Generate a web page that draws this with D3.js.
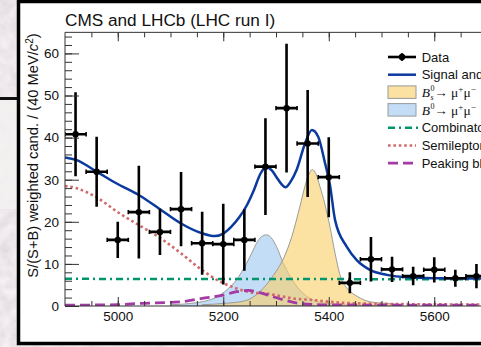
<!DOCTYPE html>
<html>
<head>
<meta charset="utf-8">
<script src="https://cdnjs.cloudflare.com/ajax/libs/d3/7.8.5/d3.min.js"></script>
<style>
  body { margin: 0; background: #d8cdd1; overflow: hidden; }
  svg { display: block; }
  text { font-family: "Liberation Sans", Arial, Helvetica, sans-serif; fill: #111; }
  .math { font-family: "Liberation Serif", "DejaVu Serif", serif; }
</style>
</head>
<body>
<script>
const W = 481, H = 347;

// weighted data, 40 MeV bins (centres)
const binMass = [4920, 4960, 5000, 5040, 5080, 5120, 5160, 5200, 5240, 5280,
  5320, 5360, 5400, 5440, 5480, 5520, 5560, 5600, 5640, 5680];
const binValue = [40.8, 31.9, 15.7, 22.3, 17.6, 23.0, 14.9, 14.7, 15.7, 33.1,
  47.0, 38.6, 30.6, 5.5, 11.1, 8.7, 7.1, 8.6, 6.6, 7.1];
const binError = [10, 8.3, 4.3, 11, 5.5, 8.8, 7.5, 9.6, 7.3, 11.5,
  15.3, 12.7, 9.5, 2.5, 5.3, 3, 2.2, 3, 2, 2.9];

// fit components as [mass, value]
const totalFit = [[4900, 35.3], [4921, 34.7], [4960, 31.9], [4998, 29.1], [5042, 26.2],
  [5080, 23.0], [5120, 19.6], [5159, 17.3], [5184, 16.6], [5200, 17.2], [5215, 18.8],
  [5230, 21.0], [5245, 24.0], [5258, 27.5], [5270, 31.3], [5281, 33.0], [5292, 32.2],
  [5301, 30.6], [5310, 29.0], [5318, 28.2], [5328, 29.6], [5339, 32.3], [5355, 38.6],
  [5368, 41.8], [5380, 40.2], [5393, 33.9], [5402, 29.0], [5412, 20.4], [5434, 14.1],
  [5453, 10.9], [5478, 8.6], [5510, 7.4], [5548, 6.8], [5605, 6.6], [5700, 6.5]];

const bsSignal = [[5160, 0.3], [5200, 0.6], [5240, 1.2], [5260, 2.4], [5280, 4.8],
  [5300, 8.2], [5315, 11.5], [5330, 16.5], [5345, 23.5], [5355, 28.5], [5362, 31.2],
  [5369, 32.4], [5376, 31.3], [5383, 28.5], [5393, 24.0], [5402, 19.0], [5412, 12.5],
  [5421, 7.5], [5434, 4.3], [5445, 3.0], [5455, 2.2], [5478, 1.0], [5510, 0.6], [5540, 0.3]];

const bdSignal = [[5100, 0.3], [5150, 0.8], [5194, 2.6], [5210, 4.2], [5225, 6.2],
  [5244, 10.1], [5255, 12.8], [5263, 14.9], [5272, 16.4], [5282, 16.9], [5291, 16.2],
  [5301, 14.1], [5314, 10.1], [5327, 7.0], [5345, 3.8], [5371, 1.4], [5400, 0.6],
  [5450, 0.2], [5500, 0.05]];

const combBkg = [[4900, 6.45], [5700, 6.35]];

const semilepBkg = [[4900, 28.5], [4921, 28.0], [4960, 25.8], [5001, 22.2], [5040, 19.2],
  [5080, 16.2], [5120, 12.5], [5159, 8.6], [5199, 5.5], [5216, 4.6], [5237, 3.7],
  [5260, 3.1], [5279, 3.0], [5302, 2.5], [5332, 1.8], [5370, 1.4], [5402, 1.0],
  [5435, 0.7], [5510, 0.5], [5592, 0.4], [5700, 0.35]];

const peakingBkg = [[4900, 0.2], [5000, 0.3], [5040, 0.6], [5120, 1.0], [5160, 1.8],
  [5200, 2.6], [5225, 3.4], [5248, 3.7], [5262, 3.4], [5285, 2.6], [5310, 1.6],
  [5340, 0.7], [5370, 0.35], [5400, 0.25], [5700, 0.2]];

const xMajor = [5000, 5200, 5400, 5600];
const xMinor = d3.range(4950, 5900, 50);
const yMajor = [0, 10, 20, 30, 40, 50, 60];
const yMinor = d3.range(2, 65, 2);

const svg = d3.select("body").append("svg").attr("width", W).attr("height", H);
const defs = svg.append("defs");

// marble-ish backdrop
const f = defs.append("filter").attr("id", "marble").attr("x", 0).attr("y", 0)
  .attr("width", 1).attr("height", 1);
f.append("feTurbulence").attr("type", "fractalNoise").attr("baseFrequency", 0.09)
  .attr("numOctaves", 3).attr("seed", 4);
f.append("feColorMatrix").attr("type", "matrix")
  .attr("values", "0 0 0 0.25 0.72  0 0 0 0.25 0.67  0 0 0 0.25 0.70  0 0 0 0 1");
svg.append("rect").attr("width", W).attr("height", H).attr("filter", "url(#marble)");

// paper behind on the left
svg.append("rect").attr("x", 0).attr("y", 99).attr("width", 17).attr("height", 110)
  .attr("fill", "#f3f1f1").attr("opacity", 0.85);
svg.append("line").attr("x1", 0).attr("x2", 17).attr("y1", 98.5).attr("y2", 98.5)
  .attr("stroke", "#111").attr("stroke-width", 3);

// the framed panel
svg.append("rect").attr("x", 18.5).attr("y", 1.5).attr("width", 600).attr("height", 342)
  .attr("fill", "#fff").attr("stroke", "#000").attr("stroke-width", 3.5);

const x = d3.scaleLinear().domain([4900, 5900]).range([65, 592.5]);
const y = d3.scaleLinear().domain([0, 65]).range([306, 32.35]);

defs.append("clipPath").attr("id", "plot").append("rect")
  .attr("x", 65).attr("y", 32.35).attr("width", 527.5).attr("height", 306 - 32.35);

const plot = svg.append("g").attr("clip-path", "url(#plot)");

const line = d3.line().x((d) => x(d[0])).y((d) => y(d[1])).curve(d3.curveMonotoneX);
const area = d3.area().x((d) => x(d[0])).y0(y(0)).y1((d) => y(d[1])).curve(d3.curveMonotoneX);

plot.append("path").datum(bdSignal).attr("d", area)
  .attr("fill", "#a9cff3").attr("fill-opacity", 0.7)
  .attr("stroke", "#9a9a9a").attr("stroke-width", 1);
plot.append("path").datum(bsSignal).attr("d", area)
  .attr("fill", "#f9cf66").attr("fill-opacity", 0.6)
  .attr("stroke", "#9a9a9a").attr("stroke-width", 1);

plot.append("path").datum(combBkg).attr("d", line).attr("fill", "none")
  .attr("stroke", "#00966b").attr("stroke-width", 2.5).attr("stroke-dasharray", "7,4,2,4");
plot.append("path").datum(semilepBkg).attr("d", line).attr("fill", "none")
  .attr("stroke", "#d16a6a").attr("stroke-width", 2.6).attr("stroke-dasharray", "2.6,2.8");
plot.append("path").datum(peakingBkg).attr("d", line).attr("fill", "none")
  .attr("stroke", "#a43aa4").attr("stroke-width", 2.8).attr("stroke-dasharray", "10,5");
plot.append("path").datum(totalFit).attr("d", line).attr("fill", "none")
  .attr("stroke", "#0b3a9e").attr("stroke-width", 2.5);

// data with errors
const bins = binMass.map((m, i) => ({ m, v: binValue[i], e: binError[i] }));
const pts = plot.selectAll(".pt").data(bins).join("g").attr("class", "pt");
pts.append("line")
  .attr("x1", (d) => x(d.m)).attr("x2", (d) => x(d.m))
  .attr("y1", (d) => y(d.v - d.e)).attr("y2", (d) => y(d.v + d.e))
  .attr("stroke", "#000").attr("stroke-width", 2.6);
pts.append("line")
  .attr("x1", (d) => x(d.m - 20)).attr("x2", (d) => x(d.m + 20))
  .attr("y1", (d) => y(d.v)).attr("y2", (d) => y(d.v))
  .attr("stroke", "#000").attr("stroke-width", 2.6);
[-20, 20].forEach((dm) => {
  pts.append("line")
    .attr("x1", (d) => x(d.m + dm)).attr("x2", (d) => x(d.m + dm))
    .attr("y1", (d) => y(d.v) - 2.2).attr("y2", (d) => y(d.v) + 2.2)
    .attr("stroke", "#000").attr("stroke-width", 1.6);
});
pts.append("circle").attr("cx", (d) => x(d.m)).attr("cy", (d) => y(d.v))
  .attr("r", 3.2).attr("fill", "#000");

// axes, ticks pointing inwards
const tickStyle = (g) => {
  g.select(".domain").remove();
  g.selectAll(".tick line").attr("stroke", "#333");
  g.selectAll(".tick text").style("font-size", "13.5px").attr("fill", "#111");
};
svg.append("g").attr("transform", "translate(0,306)")
  .call(d3.axisBottom(x).tickValues(xMinor).tickSize(-5).tickFormat("")).call(tickStyle);
svg.append("g").attr("transform", "translate(0,306)")
  .call(d3.axisBottom(x).tickValues(xMajor).tickSize(-9).tickPadding(5).tickFormat(d3.format("d")))
  .call(tickStyle);
svg.append("g").attr("transform", "translate(0,32.35)")
  .call(d3.axisTop(x).tickValues(xMinor).tickSize(-5).tickFormat("")).call(tickStyle);
svg.append("g").attr("transform", "translate(0,32.35)")
  .call(d3.axisTop(x).tickValues(xMajor).tickSize(-9).tickFormat("")).call(tickStyle);
svg.append("g").attr("transform", "translate(65,0)")
  .call(d3.axisLeft(y).tickValues(yMinor).tickSize(-7).tickFormat("")).call(tickStyle);
svg.append("g").attr("transform", "translate(65,0)")
  .call(d3.axisLeft(y).tickValues(yMajor).tickSize(-14).tickPadding(6)).call(tickStyle);

// frame
svg.append("path")
  .attr("d", `M600,32.35H65V306H600`)
  .attr("fill", "none").attr("stroke", "#333").attr("stroke-width", 1);

// title
svg.append("text").attr("x", 65).attr("y", 25.5).style("font-size", "17.2px")
  .text("CMS and LHCb (LHC run I)");

// y axis label
const yl = svg.append("text").attr("transform", "translate(37.5,155.5) rotate(-90)")
  .attr("text-anchor", "middle").style("font-size", "14.7px");
yl.append("tspan").text("S/(S+B) weighted cand. / (40 MeV/");
yl.append("tspan").style("font-style", "italic").text("c");
yl.append("tspan").attr("dy", -5).style("font-size", "10px").text("2");
yl.append("tspan").attr("dy", 5).text(")");

// legend
const lx0 = 388, lx1 = 416, tx = 421.7;
const rowY = (i) => 57 + i * 17.7;
const leg = svg.append("g");

leg.append("line").attr("x1", lx0).attr("x2", lx1).attr("y1", rowY(0)).attr("y2", rowY(0))
  .attr("stroke", "#000").attr("stroke-width", 2.6);
leg.append("line").attr("x1", 402).attr("x2", 402).attr("y1", rowY(0) - 3.8).attr("y2", rowY(0) + 3.8)
  .attr("stroke", "#000").attr("stroke-width", 2.4);
leg.append("circle").attr("cx", 402).attr("cy", rowY(0)).attr("r", 3.2).attr("fill", "#000");

leg.append("line").attr("x1", lx0).attr("x2", lx1).attr("y1", rowY(1)).attr("y2", rowY(1))
  .attr("stroke", "#0b3a9e").attr("stroke-width", 2.5);

leg.append("rect").attr("x", lx0).attr("y", rowY(2) - 6.5).attr("width", lx1 - lx0).attr("height", 12.5)
  .attr("fill", "#f9cf66").attr("fill-opacity", 0.6).attr("stroke", "#9a9a9a");
leg.append("rect").attr("x", lx0).attr("y", rowY(3) - 6.5).attr("width", lx1 - lx0).attr("height", 12.5)
  .attr("fill", "#a9cff3").attr("fill-opacity", 0.7).attr("stroke", "#9a9a9a");

leg.append("line").attr("x1", lx0).attr("x2", lx1 + 2).attr("y1", rowY(4)).attr("y2", rowY(4))
  .attr("stroke", "#00966b").attr("stroke-width", 2.5).attr("stroke-dasharray", "7,4,2,4");
leg.append("line").attr("x1", lx0).attr("x2", lx1).attr("y1", rowY(5)).attr("y2", rowY(5))
  .attr("stroke", "#d16a6a").attr("stroke-width", 2.6).attr("stroke-dasharray", "2.6,2.8");
leg.append("line").attr("x1", lx0).attr("x2", lx1).attr("y1", rowY(6)).attr("y2", rowY(6))
  .attr("stroke", "#a43aa4").attr("stroke-width", 2.8).attr("stroke-dasharray", "10,5");

const legText = ["Data", "Signal and background", null, null,
  "Combinatorial bkg.", "Semileptonic bkg.", "Peaking bkg."];
legText.forEach((t, i) => {
  if (!t) return;
  leg.append("text").attr("x", tx).attr("y", rowY(i) + 4.6).style("font-size", "13px").text(t);
});

// B_s^0 and B^0 decay labels
function decayLabel(i, sub) {
  const by = rowY(i) + 4.6;
  leg.append("text").attr("class", "math").attr("x", tx).attr("y", by)
    .style("font-size", "13.5px").style("font-style", "italic").text("B");
  leg.append("text").attr("class", "math").attr("x", tx + 8.8).attr("y", by - 6)
    .style("font-size", "8px").text("0");
  if (sub) {
    leg.append("text").attr("class", "math").attr("x", tx + 8.8).attr("y", by + 3)
      .style("font-size", "8px").style("font-style", "italic").text(sub);
  }
  const t = leg.append("text").attr("class", "math").attr("x", tx + 12.5).attr("y", by)
    .style("font-size", "13.5px");
  t.append("tspan").text("\u2192 \u03bc");
  t.append("tspan").attr("dy", -5).style("font-size", "9px").text("+");
  t.append("tspan").attr("dy", 5).text("\u03bc");
  t.append("tspan").attr("dy", -5).style("font-size", "9px").text("\u2212");
}
decayLabel(2, "s");
decayLabel(3, null);
</script>
</body>
</html>
